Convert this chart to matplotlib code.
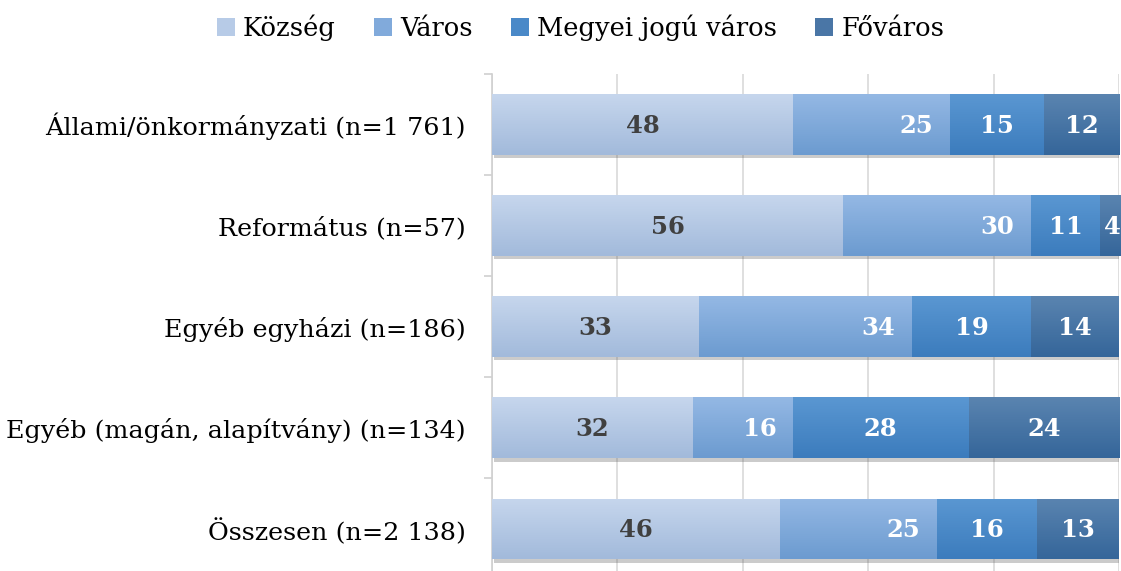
import matplotlib
matplotlib.use("Agg")
import matplotlib.pyplot as plt
import matplotlib.patheffects as pe
import numpy as np
from matplotlib.colors import LinearSegmentedColormap
from matplotlib.patches import Patch

categories = [
    "Állami/önkormányzati (n=1 761)",
    "Református (n=57)",
    "Egyéb egyházi (n=186)",
    "Egyéb (magán, alapítvány) (n=134)",
    "Összesen (n=2 138)",
]
series = ["Község", "Város", "Megyei jogú város", "Főváros"]
kozseg = [48, 56, 33, 32, 46]
varos = [25, 30, 34, 16, 25]
megyei = [15, 11, 19, 28, 16]
fovaros = [12, 4, 14, 24, 13]

# top / bottom shades of the gradient fill
tops = ["#c6d6ed", "#94b8e4", "#5a97d2", "#5a84b0"]
bottoms = ["#a2badb", "#6c9bd0", "#3c7cbd", "#35669a"]
mids = ["#b7cbe7", "#81aadb", "#4a89c8", "#4a76a6"]
label_colors = ["#404040", "white", "white", "white"]

plt.rcParams["font.family"] = ["DejaVu Serif"]

fig = plt.figure(figsize=(11.21, 5.71), dpi=100)
ax = fig.add_axes([492 / 1121, -0.015, (1119 - 492) / 1121, 0.886])

y = np.arange(len(categories))
values = [kozseg, varos, megyei, fovaros]
left = np.zeros(len(categories))
for k, vals in enumerate(values):
    bars = ax.barh(y, vals, left=left, height=0.6, color=mids[k], zorder=3,
                   path_effects=[pe.SimplePatchShadow(offset=(1.5, -2.5), alpha=0.3, shadow_rgbFace="#555555"),
                                 pe.Normal()])
    cmap = LinearSegmentedColormap.from_list(f"g{k}", [tops[k], bottoms[k]])
    for b in bars:
        x0, y0, w, h = b.get_x(), b.get_y(), b.get_width(), b.get_height()
        im = ax.imshow(np.linspace(0, 1, 64).reshape(-1, 1), cmap=cmap, aspect="auto",
                       extent=(x0, x0 + w, y0 + h, y0), zorder=3.5, interpolation="bilinear")
        im.set_clip_path(b)
    for i, v in enumerate(vals):
        if k == 1:
            ax.annotate(str(v), (left[i] + v, y[i]), xytext=(-12, -1), textcoords="offset points",
                        ha="right", va="center", fontsize=17.5, fontweight="bold",
                        color=label_colors[k], zorder=5)
        else:
            ax.annotate(str(v), (left[i] + v / 2, y[i]), xytext=(0, -1), textcoords="offset points",
                        ha="center", va="center", fontsize=17.5,
                        fontweight="bold", color=label_colors[k], zorder=5)
    left += np.array(vals)

ax.set_xlim(0, 100)
ax.set_ylim(len(categories) - 0.5, -0.5)
ax.set_xticks([0, 20, 40, 60, 80, 100])
ax.set_xticklabels([])
ax.tick_params(axis="x", length=0)
ax.grid(axis="x", color="#d9d9d9", linewidth=1.2, zorder=0)
ax.set_yticks(y)
ax.set_yticklabels(categories, fontsize=18.3)
ax.set_yticks(np.arange(-0.5, len(categories), 1), minor=True)
ax.tick_params(axis="y", which="major", length=0, pad=19)
ax.tick_params(axis="y", which="minor", length=6, color="#d0d0d0", width=1.2)
for s in ["top", "right", "bottom"]:
    ax.spines[s].set_visible(False)
ax.spines["left"].set_color("#d0d0d0")
ax.spines["left"].set_linewidth(1.2)

handles = [Patch(facecolor=mids[k], edgecolor="none") for k in range(4)]
fig.legend(handles, series, loc="center", bbox_to_anchor=(0.518, 0.951), ncol=4, frameon=False,
           fontsize=18.5, handlelength=0.7, handleheight=0.7, handletextpad=0.3, columnspacing=1.5)

fig.savefig("out.png", dpi=100)
